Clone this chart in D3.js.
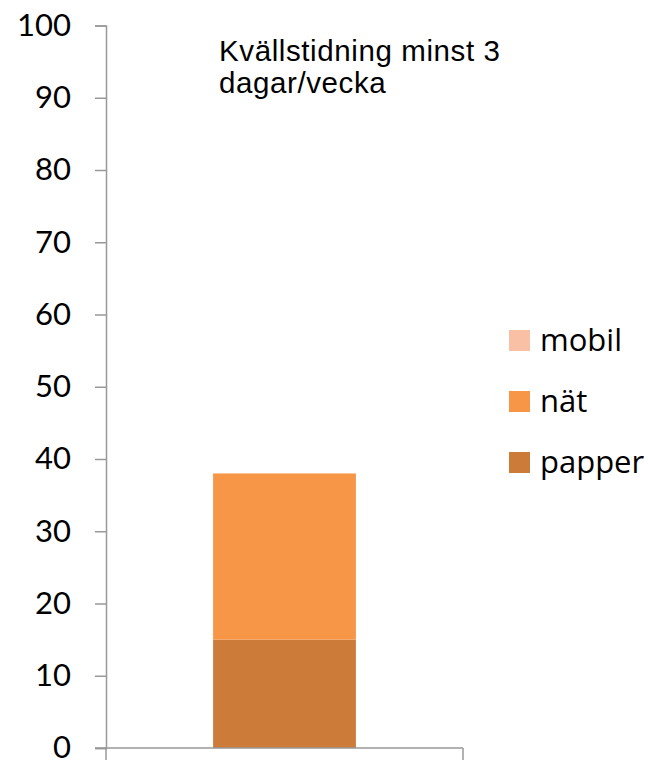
<!DOCTYPE html>
<html><head><meta charset="utf-8">
<script src="https://cdn.jsdelivr.net/npm/d3@7"></script>
<style>body{margin:0;background:#fff}svg{display:block}</style>
</head><body>
<svg id="c" width="648" height="760"></svg>
<script>
const categories = ["Kvällstidning minst 3 dagar/vecka"];
const seriesNames = ["papper", "nät", "mobil"];
const papper = [15];
const nat = [23];
const mobil = [0];
const colors = ["#CC7B38", "#F79646", "#FAC0A6"];
const yTicks = [0,10,20,30,40,50,60,70,80,90,100];
const titleLines = ["Kvällstidning minst 3", "dagar/vecka"];

const svg = d3.select("#c");
const y = d3.scaleLinear().domain([0,100]).range([748,25.5]);
const x = d3.scaleBand().domain(categories).range([106,463]).paddingInner(0).paddingOuter(0.75);

const rows = categories.map((c,i)=>({cat:c, papper:papper[i], "nät":nat[i], mobil:mobil[i]}));
const stack = d3.stack().keys(seriesNames)(rows);

svg.append("g").selectAll("g").data(stack).join("g")
  .attr("fill",(d,i)=>colors[i])
  .selectAll("rect").data(d=>d).join("rect")
  .attr("x",d=>x(d.data.cat)).attr("width",x.bandwidth())
  .attr("y",d=>y(d[1])).attr("height",d=>y(d[0])-y(d[1]));

// y axis
const ya = svg.append("g").attr("transform","translate(106,0)")
  .call(d3.axisLeft(y).tickValues(yTicks).tickSize(11).tickPadding(24));
ya.select(".domain").attr("stroke","#999").attr("stroke-width",1.5);
ya.selectAll(".tick line").attr("stroke","#999").attr("stroke-width",1.5);
ya.selectAll("text").attr("font-family","Lato, sans-serif").attr("font-size",31).attr("fill","#000");

// x axis
const xa = svg.append("g").attr("transform","translate(0,748)");
xa.append("line").attr("x1",95).attr("x2",463).attr("stroke","#999").attr("stroke-width",1.5);
xa.append("line").attr("x1",463).attr("x2",463).attr("y1",0).attr("y2",12).attr("stroke","#999").attr("stroke-width",1.5);
xa.append("line").attr("x1",106).attr("x2",106).attr("y1",0).attr("y2",12).attr("stroke","#999").attr("stroke-width",1.5);

// title
const t = svg.append("text").attr("font-family","'Liberation Sans', Arial, sans-serif").attr("font-size",29.5).attr("letter-spacing",0.6).attr("fill","#000");
titleLines.forEach((l,i)=>t.append("tspan").attr("x",219).attr("y",61+i*32).text(l));

// legend
const legend = ["mobil","nät","papper"];
const legendColors = {"mobil":colors[2],"nät":colors[1],"papper":colors[0]};
const lg = svg.append("g").selectAll("g").data(legend).join("g")
  .attr("transform",(d,i)=>`translate(509,${330+i*61})`);
lg.append("rect").attr("width",21).attr("height",21).attr("fill",d=>legendColors[d]);
lg.append("text").attr("x",31).attr("y",21).attr("font-family","'Open Sans', sans-serif").attr("font-size",31).attr("fill","#000").text(d=>d);
</script>
</body></html>
